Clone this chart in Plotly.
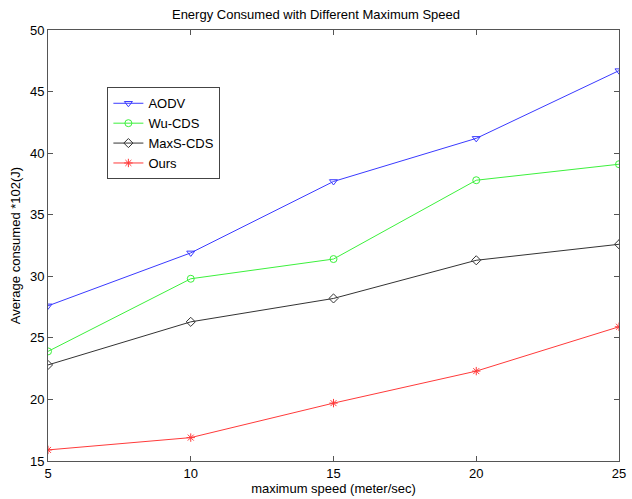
import plotly.graph_objects as go

speeds = [5, 10, 15, 20, 25]
aodv = [27.6, 31.9, 37.7, 41.2, 46.7]
wu_cds = [23.9, 29.8, 31.4, 37.8, 39.1]
maxs_cds = [22.8, 26.3, 28.2, 31.3, 32.6]
ours = [15.9, 16.9, 19.7, 22.3, 25.9]

series = [
    ("AODV", aodv, "#3a3aff", "triangle-down-open"),
    ("Wu-CDS", wu_cds, "#3cf03c", "circle-open"),
    ("MaxS-CDS", maxs_cds, "#333333", "diamond-open"),
    ("Ours", ours, "#ff3a3a", "asterisk-open"),
]

fig = go.Figure()
for name, vals, color, sym in series:
    fig.add_trace(go.Scatter(
        x=speeds, y=vals, name=name, mode="lines+markers",
        line=dict(color=color, width=1),
        marker=dict(symbol=sym, size=7, color=color, line=dict(color=color, width=1)),
    ))

font = dict(family="Liberation Sans, Arial, sans-serif", size=13, color="black")
axis_common = dict(
    showgrid=False, zeroline=False, showline=True, linecolor="#555555", linewidth=1,
    mirror="ticks", ticks="inside", ticklen=5, tickcolor="#555555",
    tickfont=font, ticklabeloverflow="allow",
)
fig.update_layout(
    width=632, height=499,
    margin=dict(l=48, r=6, t=30, b=34),
    paper_bgcolor="white", plot_bgcolor="white",
    font=font,
    title=dict(text="Energy Consumed with Different Maximum Speed", x=0.5, xanchor="center",
               y=0.98, yanchor="top", font=dict(size=13)),
    xaxis=dict(range=[5, 25], tickvals=[5, 10, 15, 20, 25],
               title=dict(text="maximum speed (meter/sec)", standoff=3, font=dict(size=13)),
               **axis_common),
    yaxis=dict(range=[15, 50], tickvals=[15, 20, 25, 30, 35, 40, 45, 50],
               title=dict(text="Average consumed *102(J)", standoff=6, font=dict(size=13)),
               **axis_common),
    legend=dict(x=0.104, y=0.867, xanchor="left", yanchor="top",
                bgcolor="white", bordercolor="#444444", borderwidth=1,
                font=dict(size=13), tracegroupgap=0, itemwidth=30),
    showlegend=True,
)
fig.write_html("out.html")
